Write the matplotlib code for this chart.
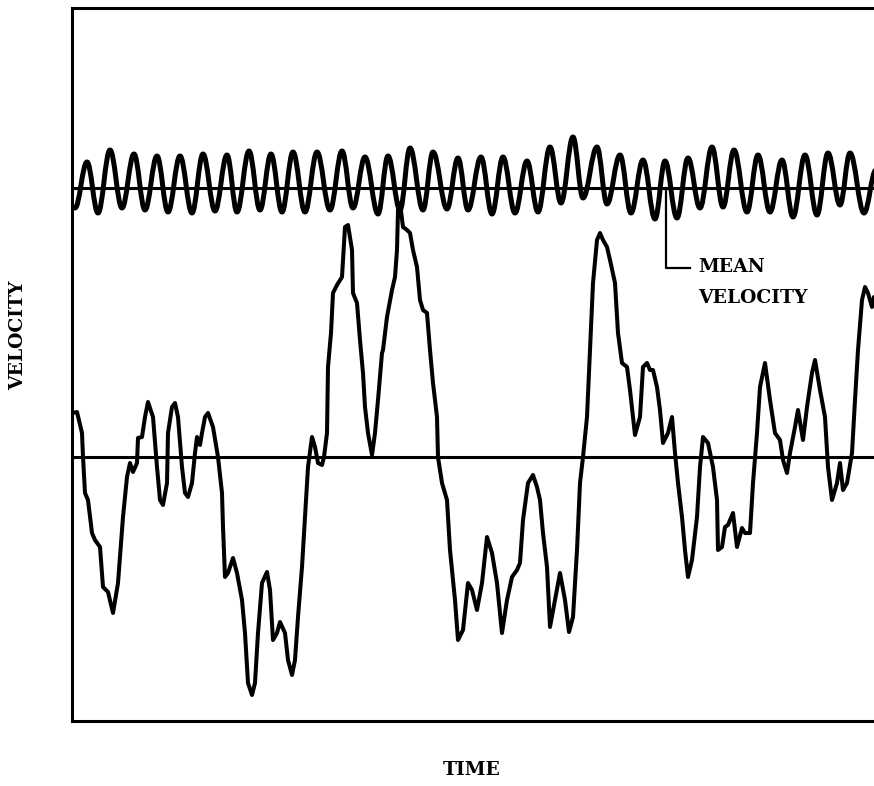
import matplotlib
matplotlib.use("Agg")
import matplotlib.pyplot as plt
from matplotlib.path import Path
from matplotlib.patches import PathPatch

# periodic record: turning points (peaks and troughs) of the oscillation
osc_t = [3, 15, 26, 38, 50, 62, 73, 85, 96, 108, 120, 131, 143, 155, 165,
         177, 188, 199, 210, 221, 233, 245, 258, 270, 281, 293, 306, 316,
         328, 338, 351, 361, 375, 386, 396, 409, 420, 431, 443, 455, 466,
         478, 489, 501, 511, 525, 535, 548, 559, 571, 583, 593, 605, 616,
         628, 640, 651, 662, 675, 686, 698, 710, 721, 733, 745, 756, 768,
         778, 792, 804]
osc_v = [249, 295, 244, 307, 249, 303, 247, 301, 245, 301, 244, 303, 246,
         302, 245, 306, 247, 303, 245, 305, 245, 305, 247, 306, 249, 300,
         243, 301, 247, 309, 247, 305, 248, 299, 247, 300, 243, 300, 244,
         296, 245, 310, 254, 320, 259, 310, 253, 302, 244, 297, 238, 296,
         239, 299, 249, 310, 250, 307, 245, 302, 245, 297, 240, 302, 242,
         304, 252, 304, 244, 287]
osc_mean = 269

# turbulent record
turb_t = [1, 5, 10, 11, 13, 16, 20, 23, 28, 31, 36, 41, 46, 51, 55, 58, 61,
          65, 66, 70, 73, 76, 81, 85, 88, 91, 95, 96, 100, 103, 106, 110,
          113, 116, 120, 123, 125, 128, 130, 133, 136, 141, 146, 150, 151,
          153, 156, 161, 165, 170, 173, 176, 180, 183, 186, 190, 195, 198,
          201, 205, 208, 213, 216, 220, 223, 226, 230, 233, 236, 240, 243,
          246, 250, 252, 255, 256, 259, 261, 265, 270, 271, 273, 276, 280,
          281, 285, 288, 291, 293, 296, 300, 303, 306, 310, 311, 315, 320,
          323, 325, 326, 328, 331, 335, 338, 341, 345, 348, 351, 355, 358,
          361, 365, 366, 370, 375, 378, 383, 386, 391, 396, 400, 405, 410,
          415, 420, 425, 430, 435, 440, 445, 448, 451, 456, 461, 465, 468,
          471, 475, 478, 483, 488, 493, 497, 501, 505, 508, 511, 515, 518,
          521, 525, 528, 531, 535, 538, 543, 546, 550, 555, 558, 561, 563,
          568, 571, 575, 578, 581, 585, 588, 591, 596, 600, 603, 606, 610,
          613, 616, 620, 625, 628, 631, 636, 641, 645, 646, 650, 653, 656,
          661, 665, 670, 673, 678, 681, 685, 688, 693, 698, 703, 708, 711,
          715, 718, 723, 726, 731, 735, 740, 743, 748, 753, 756, 760, 765,
          768, 771, 775, 780, 783, 786, 790, 793, 796, 800, 802]
turb_v = [44, 45, 24, 0, -36, -43, -76, -83, -90, -130, -135, -156, -126,
          -60, -20, -6, -15, -6, 19, 20, 40, 55, 40, -10, -43, -48, -26, 24,
          50, 54, 40, -10, -36, -40, -26, 4, 20, 12, 24, 40, 44, 30, 0, -36,
          -70, -120, -116, -101, -116, -143, -176, -226, -238, -226, -176,
          -126, -115, -133, -183, -176, -165, -176, -203, -218, -203, -160,
          -110, -60, -10, 20, 10, -6, -8, 0, 24, 90, 124, 164, 172, 180,
          197, 230, 232, 207, 164, 154, 117, 84, 50, 24, 2, 24, 57, 104,
          107, 140, 167, 180, 207, 247, 254, 230, 227, 224, 207, 190, 157,
          147, 144, 107, 74, 40, 0, -26, -43, -93, -143, -183, -173, -126,
          -133, -153, -126, -80, -96, -126, -176, -143, -120, -113, -106,
          -63, -26, -18, -30, -43, -76, -110, -170, -143, -116, -143, -175,
          -160, -93, -26, 0, 40, 107, 174, 217, 224, 217, 210, 197, 174,
          124, 94, 90, 67, 40, 22, 40, 90, 94, 87, 87, 70, 47, 14, 24, 40,
          4, -26, -60, -93, -120, -103, -60, -10, 20, 14, -10, -43, -93,
          -90, -70, -68, -56, -90, -71, -76, -76, -26, 24, 70, 94, 57, 24,
          17, -3, -16, 4, 30, 47, 17, 50, 84, 97, 67, 40, -10, -43, -26, -6,
          -33, -26, 4, 57, 107, 157, 170, 164, 150, 160]
turb_mean = 0

# mean-velocity pointer
ptr_t = [594, 594, 618]
ptr_v = [osc_mean, 189, 189]

fig = plt.figure(figsize=(8.74, 7.86), dpi=100)
ax = fig.add_axes([72 / 874, 65 / 786, 802 / 874, 713 / 786])
ax.set_xlim(0, 802)
ax.set_ylim(-264, 449)

# smooth the oscillation between turning points with cubic segments
verts = [(osc_t[0], osc_v[0])]
codes = [Path.MOVETO]
for i in range(1, len(osc_t)):
    t0, v0 = osc_t[i - 1], osc_v[i - 1]
    t1, v1 = osc_t[i], osc_v[i]
    d = 0.38 * (t1 - t0)
    verts += [(t0 + d, v0), (t1 - d, v1), (t1, v1)]
    codes += [Path.CURVE4] * 3
ax.add_patch(PathPatch(Path(verts, codes), fill=False, lw=3.6,
                       ec="black", capstyle="round", joinstyle="round"))

ax.axhline(osc_mean, color="black", lw=2.2)
ax.axhline(turb_mean, color="black", lw=2.2)
ax.plot(turb_t, turb_v, color="black", lw=2.9,
        solid_joinstyle="round", solid_capstyle="round")

ax.plot(ptr_t, ptr_v, color="black", lw=1.6)
font = dict(family="DejaVu Serif", weight="bold", size=13.5)
ax.text(626, 190, "MEAN", ha="left", va="center", **font)
ax.text(626, 159, "VELOCITY", ha="left", va="center", **font)

ax.set_xticks([])
ax.set_yticks([])
for s in ["left", "top", "bottom"]:
    ax.spines[s].set_linewidth(2.2)
ax.spines["right"].set_visible(False)

fig.text(18 / 874, 1 - 335 / 786, "VELOCITY", rotation=90,
         ha="center", va="center", **font)
fig.text(472 / 874, 1 - 770 / 786, "TIME", ha="center", va="center", **font)

fig.savefig("out.png", dpi=100)
